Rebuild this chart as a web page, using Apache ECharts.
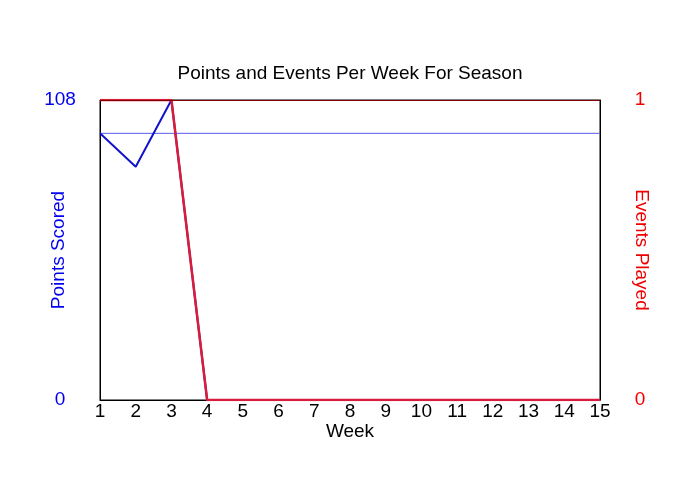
<!DOCTYPE html>
<html>
<head>
<meta charset="utf-8">
<script src="https://cdn.jsdelivr.net/npm/echarts@6/dist/echarts.min.js"></script>
<style>
  html, body { margin: 0; padding: 0; background: #fff; }
  #chart { width: 700px; height: 500px; }
</style>
</head>
<body>
<div id="chart"></div>
<script>
const weeks = ["1", "2", "3", "4", "5", "6", "7", "8", "9", "10", "11", "12", "13", "14", "15"];
const pointsScored = [96, 84, 108, 0, 0, 0, 0, 0, 0, 0, 0, 0, 0, 0, 0];
const eventsPlayed = [1, 1, 1, 0, 0, 0, 0, 0, 0, 0, 0, 0, 0, 0, 0];
const averagePoints = 96;

const chart = echarts.init(document.getElementById("chart"));
const font = "Liberation Sans, Arial, sans-serif";

// average reference line runs from the first to the last week
const averageLine = [
  [weeks[0], averagePoints],
  [weeks[weeks.length - 1], averagePoints]
];

const option = {
  backgroundColor: "#fff",
  animation: false,
  textStyle: { fontFamily: font },
  title: {
    text: "Points and Events Per Week For Season",
    left: "center",
    top: 59,
    textStyle: { fontFamily: font, fontSize: 19, fontWeight: "normal", color: "#000" }
  },
  grid: {
    left: 100, right: 100, top: 100, bottom: 100,
    show: true, borderColor: "#000", borderWidth: 1
  },
  xAxis: {
    type: "category",
    data: weeks,
    boundaryGap: false,
    name: "Week",
    nameLocation: "middle",
    nameGap: 22,
    nameMoveOverlap: false,
    nameTextStyle: { fontSize: 19, color: "#000" },
    axisLine: { lineStyle: { color: "#000" } },
    axisTick: { show: false },
    axisLabel: { fontSize: 19, color: "#000", margin: 2 }
  },
  yAxis: [
    {
      type: "value",
      min: 0, max: 108, interval: 108,
      name: "Points Scored",
      nameLocation: "middle",
      nameGap: 32,
      nameMoveOverlap: false,
      nameTextStyle: { fontSize: 19, color: "#0000ee" },
      axisLine: { show: true, lineStyle: { color: "#000" } },
      axisTick: { show: false },
      splitLine: { show: false },
      axisLabel: { fontSize: 19, color: "#0000ee", margin: 40, align: "center" }
    },
    {
      type: "value",
      min: 0, max: 1, interval: 1,
      name: "Events Played",
      nameLocation: "middle",
      nameGap: 32,
      nameRotate: -90,
      nameMoveOverlap: false,
      nameTextStyle: { fontSize: 19, color: "#ee0000" },
      axisLine: { show: true, lineStyle: { color: "#000" } },
      axisTick: { show: false },
      splitLine: { show: false },
      axisLabel: { fontSize: 19, color: "#ee0000", margin: 40, align: "center" }
    }
  ],
  series: [
    {
      name: "Average",
      type: "line",
      yAxisIndex: 0,
      data: averageLine,
      symbol: "none",
      silent: true,
      lineStyle: { color: "#5a5aee", width: 1 },
      itemStyle: { color: "#5a5aee" },
      z: 1
    },
    {
      name: "Points Scored",
      type: "line",
      yAxisIndex: 0,
      data: pointsScored,
      symbol: "none",
      lineStyle: { color: "#1212cc", width: 2 },
      z: 2
    },
    {
      name: "Events Played",
      type: "line",
      yAxisIndex: 1,
      data: eventsPlayed,
      symbol: "none",
      lineStyle: { color: "#d81c3c", width: 2.5 },
      z: 3,
      markLine: {
        silent: true,
        symbol: "none",
        label: { show: false },
        lineStyle: { color: "#800000", width: 1, type: "solid" },
        data: [{ yAxis: 1 }]
      }
    }
  ]
};

chart.setOption(option);
</script>
</body>
</html>
